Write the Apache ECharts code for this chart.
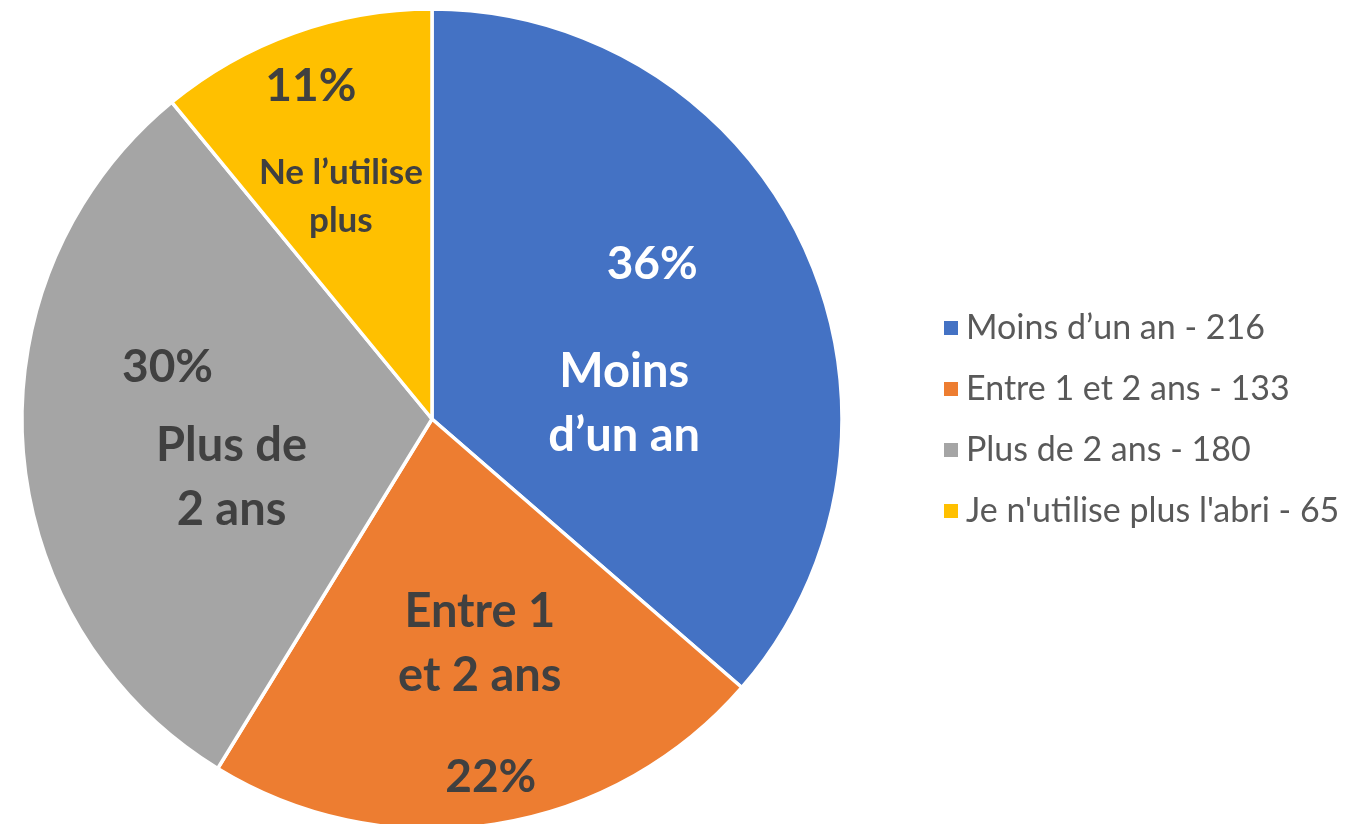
<!DOCTYPE html>
<html><head><meta charset="utf-8">
<script src="https://cdn.jsdelivr.net/npm/echarts@6/dist/echarts.min.js"></script>
<style>html,body{margin:0;padding:0;background:#fff}#c{width:1372px;height:824px}</style>
</head><body><div id="c"></div>
<script>
// Data
const categories = ["Moins d\u2019un an", "Entre 1 et 2 ans", "Plus de 2 ans", "Je n'utilise plus l'abri"];
const values = [216, 133, 180, 65];
const sliceLabels = ["Moins\nd\u2019un an", "Entre 1\net 2 ans", "Plus de\n2 ans", "Ne l\u2019utilise\nplus"];

// Styles
const colors = ["#4472C4", "#ED7D31", "#A5A5A5", "#FFC000"];
const labelColors = ["#FFFFFF", "#404040", "#404040", "#404040"];
const nameOffsets = [[3, 71], [16, 19], [7, 45], [-21, -26]];
const pctOffsets = [[31, -68], [27, 153], [-57, -66], [-51, -137]];
const FONT = "Lato";

const chart = echarts.init(document.getElementById('c'));
const baseData = categories.map((n, i) => ({ name: n, value: values[i] }));

chart.setOption({
  animation: false,
  color: colors,
  legend: {
    orient: 'vertical',
    left: 937,
    top: 305,
    icon: 'rect',
    itemWidth: 16,
    itemHeight: 16,
    itemGap: 25,
    data: categories,
    formatter: name => name + ' - ' + values[categories.indexOf(name)],
    textStyle: { fontFamily: FONT, fontSize: 34, color: '#595959', lineHeight: 36, padding: [0, 0, 0, 2] }
  },
  series: [
    {
      type: 'pie',
      center: [432, 419],
      radius: 410,
      startAngle: 90,
      clockwise: true,
      avoidLabelOverlap: false,
      itemStyle: { borderColor: '#fff', borderWidth: 3.5 },
      emphasis: { disabled: true },
      labelLine: { show: false },
      label: {
        show: true,
        position: 'inside',
        formatter: p => sliceLabels[p.dataIndex],
        fontFamily: FONT,
        fontWeight: 'bold',
        fontSize: 47,
        lineHeight: 64
      },
      labelLayout: p => ({ dx: nameOffsets[p.dataIndex][0], dy: nameOffsets[p.dataIndex][1] }),
      data: baseData.map((d, i) => ({
        name: d.name, value: d.value,
        label: i === 3 ? { color: labelColors[i], fontSize: 35, lineHeight: 48 } : { color: labelColors[i] }
      }))
    },
    {
      type: 'pie',
      center: [432, 419],
      radius: 410,
      startAngle: 90,
      clockwise: true,
      silent: true,
      avoidLabelOverlap: false,
      itemStyle: { color: 'rgba(0,0,0,0)', borderWidth: 0 },
      emphasis: { disabled: true },
      labelLine: { show: false },
      label: {
        show: true,
        position: 'inside',
        formatter: p => Math.round(p.percent) + '%',
        fontFamily: FONT,
        fontWeight: 'bold',
        fontSize: 46
      },
      labelLayout: p => ({ dx: pctOffsets[p.dataIndex][0], dy: pctOffsets[p.dataIndex][1] }),
      data: baseData.map((d, i) => ({ name: d.name, value: d.value, label: { color: labelColors[i] } }))
    }
  ]
});
</script></body></html>
